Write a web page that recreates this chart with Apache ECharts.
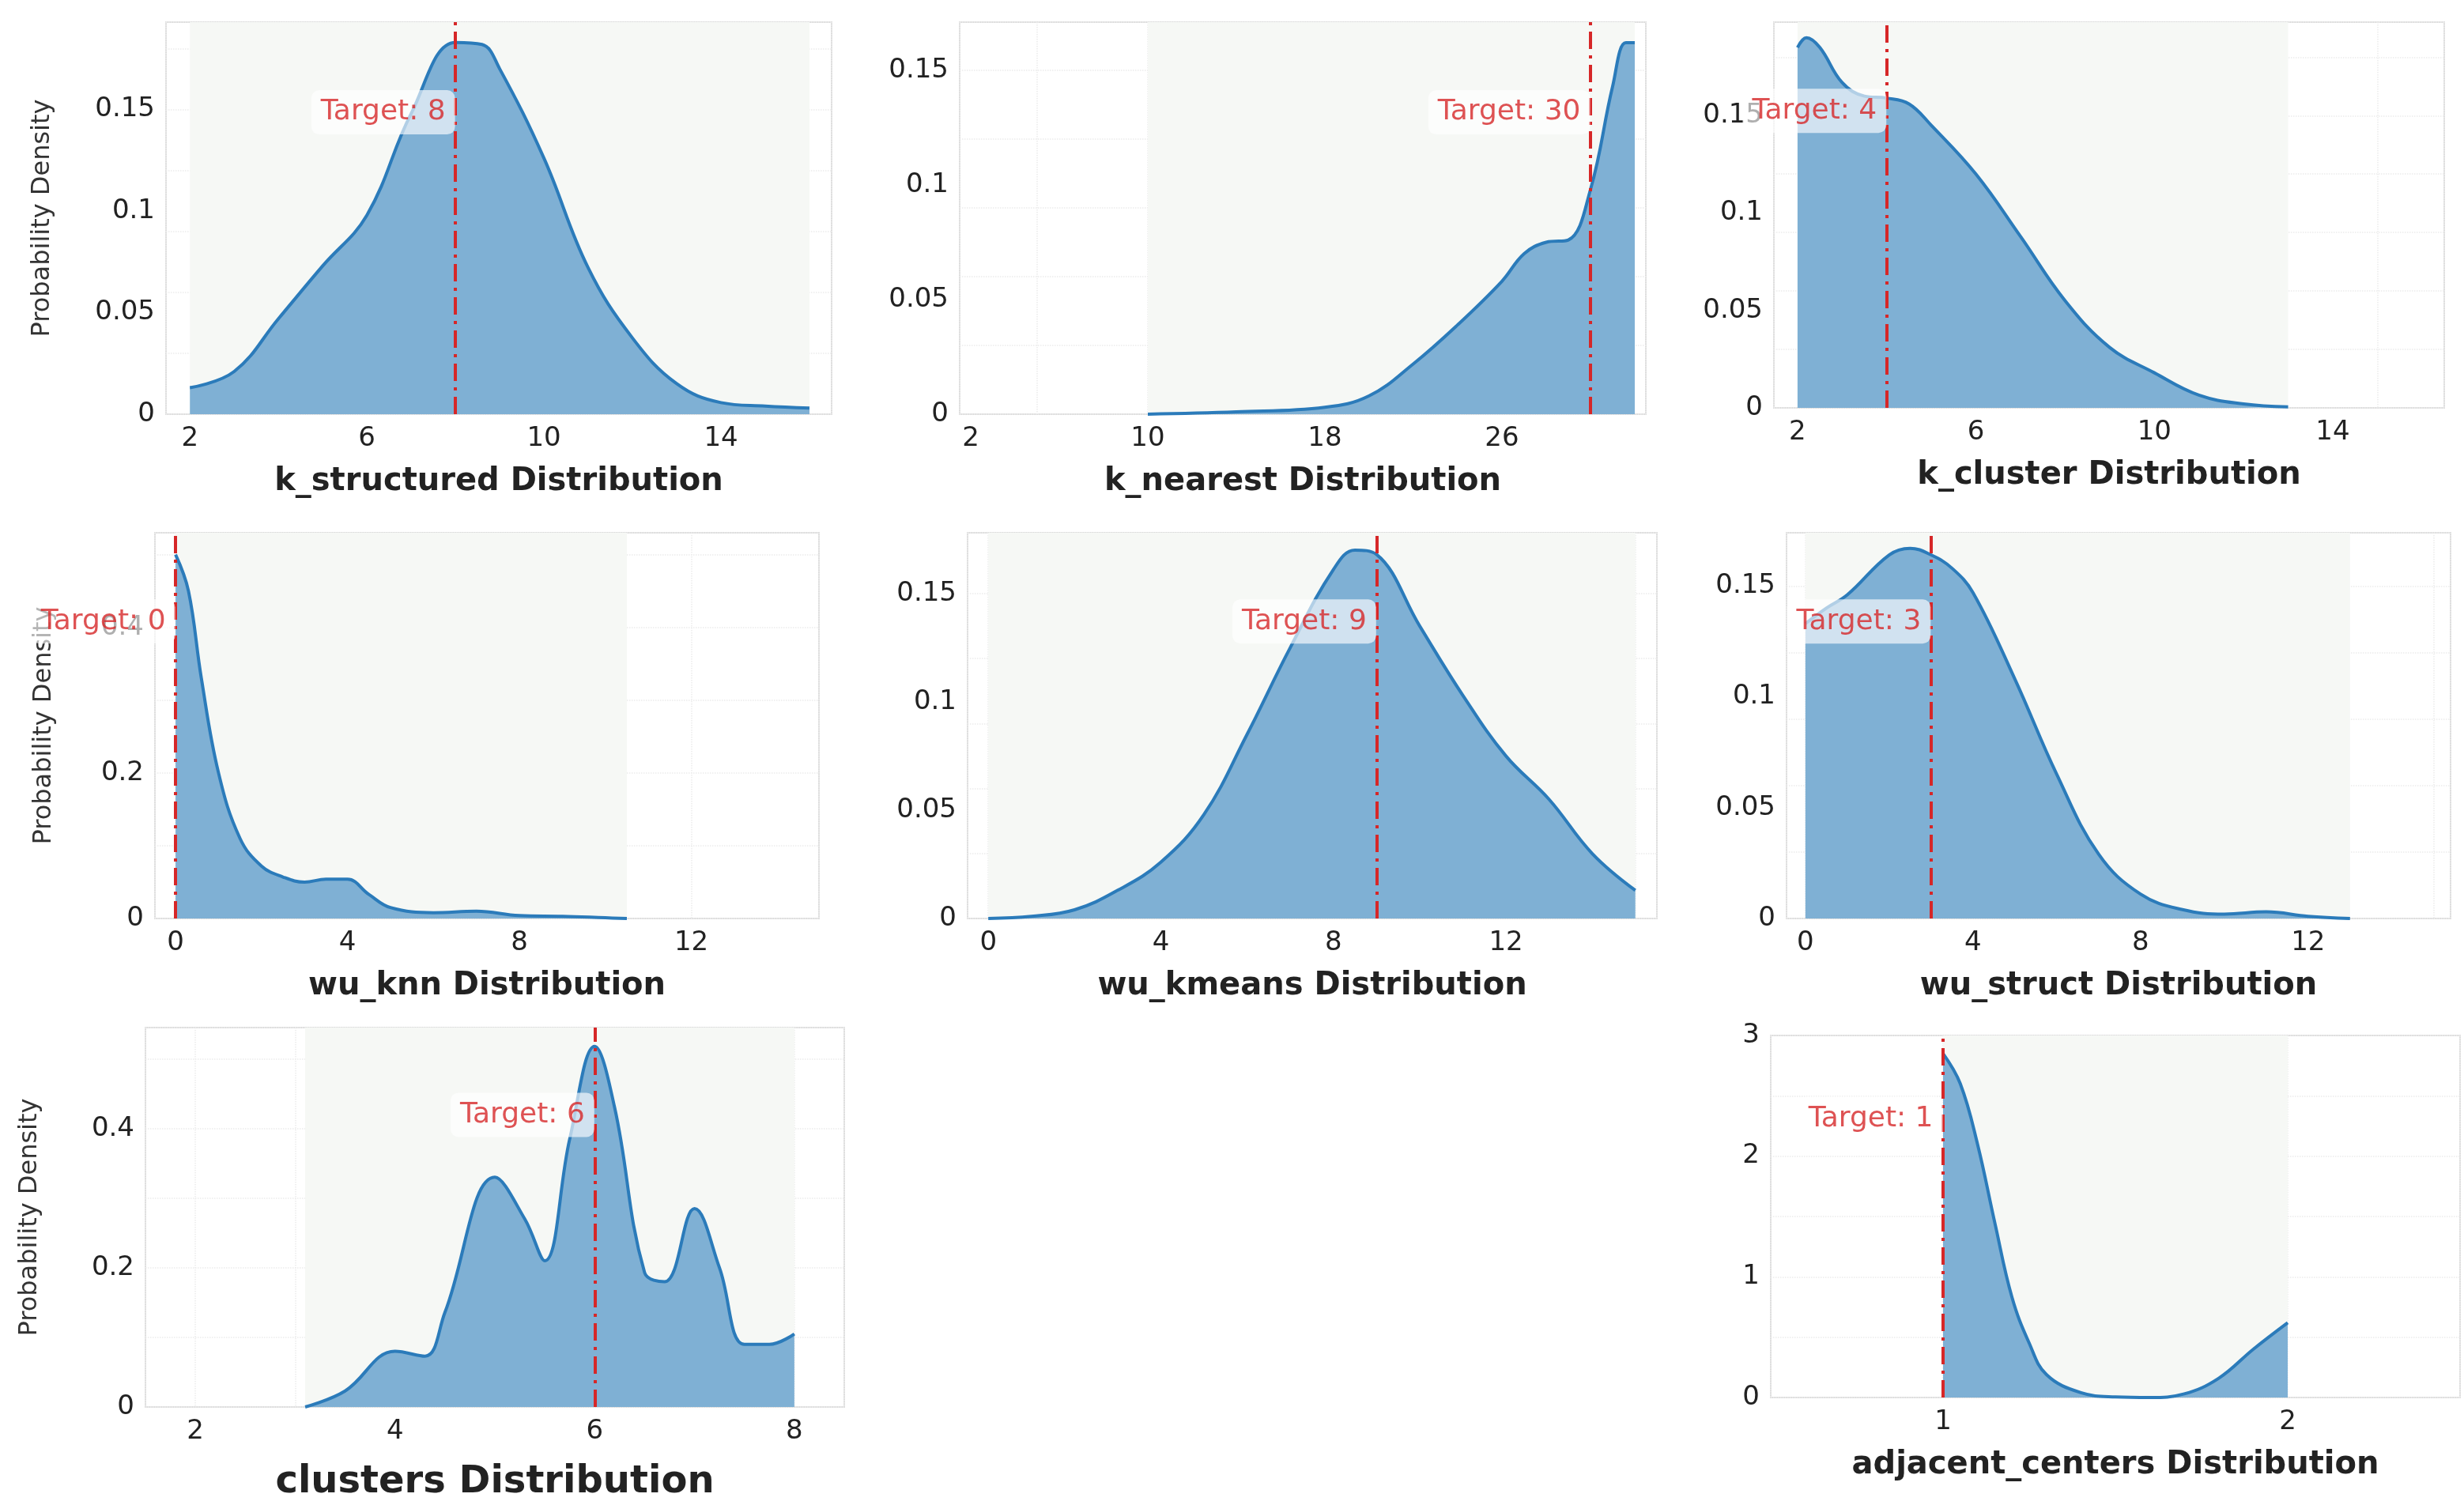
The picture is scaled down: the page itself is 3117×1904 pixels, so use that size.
<!DOCTYPE html>
<html>
<head>
<meta charset="utf-8">
<script src="https://cdn.jsdelivr.net/npm/echarts@6/dist/echarts.min.js"></script>
<style>html,body{margin:0;background:#fff}#chart{width:3117px;height:1904px}</style>
</head>
<body>
<div id="chart"></div>
<script>
// KDE curves: [x, density]
var kStructured = [[2,0.013],[3,0.021],[4,0.047],[5,0.073],[6,0.098],[7,0.148],[8,0.183],[8.6,0.182],[9,0.17],[10,0.126],[11,0.072],[12,0.0375],[13,0.015],[14,0.0057],[15,0.004],[16,0.003]];
var kNearest = [[10,0],[14,0.001],[18,0.003],[20,0.008],[22,0.022],[24,0.039],[26,0.058],[27,0.07],[28,0.075],[29,0.076],[30,0.098],[31,0.143],[31.6,0.162],[32,0.162]];
var kCluster = [[2,0.185],[2.2,0.19],[2.5,0.185],[3,0.167],[3.5,0.16],[4,0.159],[4.5,0.156],[5,0.145],[6,0.12],[7,0.088],[8,0.055],[9,0.031],[10,0.018],[11,0.0065],[12,0.002],[13,0.0005]];
var wuKnn = [[0,0.5],[0.3,0.45],[0.6,0.33],[1,0.2],[1.5,0.11],[2,0.072],[2.5,0.057],[3,0.05],[3.5,0.054],[4,0.054],[4.5,0.033],[5,0.015],[6,0.008],[7,0.01],[8,0.004],[9,0.003],[10,0.001],[10.5,0]];
var wuKmeans = [[0,0],[1,0.001],[2,0.004],[3,0.013],[4,0.026],[5,0.048],[6,0.085],[7,0.125],[8,0.161],[8.5,0.17],[9,0.168],[10,0.135],[11,0.103],[12,0.075],[13,0.055],[14,0.03],[15,0.013]];
var wuStruct = [[0,0.133],[0.5,0.14],[1,0.146],[2,0.164],[2.5,0.167],[3,0.164],[3.5,0.158],[4,0.147],[5,0.108],[6,0.065],[7,0.029],[8,0.011],[9,0.004],[10,0.002],[11,0.003],[12,0.001],[13,0]];
var clusters = [[3.1,0],[3.5,0.023],[4,0.08],[4.3,0.073],[4.5,0.136],[5,0.33],[5.3,0.27],[5.5,0.21],[5.75,0.385],[6,0.518],[6.2,0.43],[6.5,0.193],[6.7,0.18],[7,0.285],[7.25,0.2],[7.5,0.09],[7.75,0.09],[8,0.105]];
var adjacentCenters = [[1,2.85],[1.05,2.6],[1.1,2.1],[1.15,1.45],[1.2,0.83],[1.25,0.45],[1.3,0.19],[1.4,0.04],[1.5,0.005],[1.6,0],[1.7,0.03],[1.8,0.16],[1.9,0.4],[2,0.62]];

var names = ['k_structured','k_nearest','k_cluster','wu_knn','wu_kmeans','wu_struct','clusters','adjacent_centers'];
var curves = [kStructured,kNearest,kCluster,wuKnn,wuKmeans,wuStruct,clusters,adjacentCenters];
var targets = [8,30,4,0,9,3,6,1];
var xTicks = [[2,6,10,14],[2,10,18,26],[2,6,10,14],[0,4,8,12],[0,4,8,12],[0,4,8,12],[2,4,6,8],[1,2]];
var yTicks = [[0,0.05,0.1,0.15],[0,0.05,0.1,0.15],[0,0.05,0.1,0.15],[0,0.2,0.4],[0,0.05,0.1,0.15],[0,0.05,0.1,0.15],[0,0.2,0.4],[0,1,2,3]];
var xRanges = [[1.46,16.5],[1.5,32.5],[1.47,16.5],[-0.48,14.97],[-0.48,15.5],[-0.45,15.4],[1.5,8.5],[0.5,2.5]];
var yMaxes = [0.193,0.171,0.198,0.53,0.178,0.174,0.545,3];

var grids = [
  {left:210,top:28,width:842,height:496},
  {left:1214,top:28,width:868,height:496},
  {left:2244,top:28,width:848,height:488},
  {left:196,top:674,width:840,height:488},
  {left:1224,top:674,width:872,height:488},
  {left:2260,top:674,width:840,height:488},
  {left:184,top:1300,width:884,height:480},
  {left:2240,top:1310,width:872,height:458}
];
var yNameGap = {0:140,3:124,6:130};

var red = '#d62728';
var option = {animation:false, grid:[], xAxis:[], yAxis:[], series:[]};
curves.forEach(function(c, i) {
  var g = grids[i];
  option.grid.push({left:g.left, top:g.top, width:g.width, height:g.height, show:true,
    borderColor:'#dddddd', borderWidth:2, backgroundColor:'#fff'});
  option.xAxis.push({
    type:'value', gridIndex:i, min:xRanges[i][0], max:xRanges[i][1],
    name:names[i] + ' Distribution', nameLocation:'middle', nameGap: i === 6 ? 72 : 66,
    nameTextStyle:{fontFamily:'DejaVu Sans', fontWeight:'bold', fontSize: i === 6 ? 48 : 40, color:'#222'},
    axisLine:{show:false}, axisTick:{show:false},
    axisLabel:{customValues:xTicks[i], fontFamily:'DejaVu Sans', fontSize:34, color:'#222', margin:14},
    splitLine:{show:true, lineStyle:{color:'#ececec', type:'dotted', width:1.5}}
  });
  var ya = {
    type:'value', gridIndex:i, min:0, max:yMaxes[i],
    axisLine:{show:false}, axisTick:{show:false},
    axisLabel:{customValues:yTicks[i], fontFamily:'DejaVu Sans', fontSize:34, color:'#222', margin:14},
    splitLine:{show:true, lineStyle:{color:'#ececec', type:'dotted', width:1.5}}
  };
  if (yNameGap[i] !== undefined) {
    ya.name = 'Probability Density';
    ya.nameLocation = 'middle';
    ya.nameGap = yNameGap[i];
    ya.nameTextStyle = {fontFamily:'DejaVu Sans', fontSize:32, color:'#333'};
  }
  option.yAxis.push(ya);
  var x0 = c[0][0], x1 = c[c.length - 1][0];
  option.series.push({
    type:'line', xAxisIndex:i, yAxisIndex:i, data:c, smooth:0.4, symbol:'none',
    lineStyle:{color:'#2b7bba', width:4},
    areaStyle:{color:'#7fb0d4', opacity:1},
    markArea:{silent:true, itemStyle:{color:'#f6f8f5'}, data:[[{xAxis:x0},{xAxis:x1}]]},
    markLine:{silent:true, symbol:'none', label:{show:false},
      lineStyle:{color:red, width:4, type:[22,8,4,8]}, data:[{xAxis:targets[i]}]},
    z:2
  });
  option.series.push({
    type:'scatter', xAxisIndex:i, yAxisIndex:i, symbolSize:1, itemStyle:{color:'rgba(0,0,0,0)'},
    data:[[targets[i], yMaxes[i] * 0.77]], z:5,
    label:{show:true, position:'left', distance:0, formatter:'Target: ' + targets[i],
      color:red, fontFamily:'DejaVu Sans', fontSize:36,
      backgroundColor:'rgba(255,255,255,0.8)', padding:[10,12], borderRadius:10}
  });
});

var chart = echarts.init(document.getElementById('chart'));
chart.setOption(option);
</script>
</body>
</html>
